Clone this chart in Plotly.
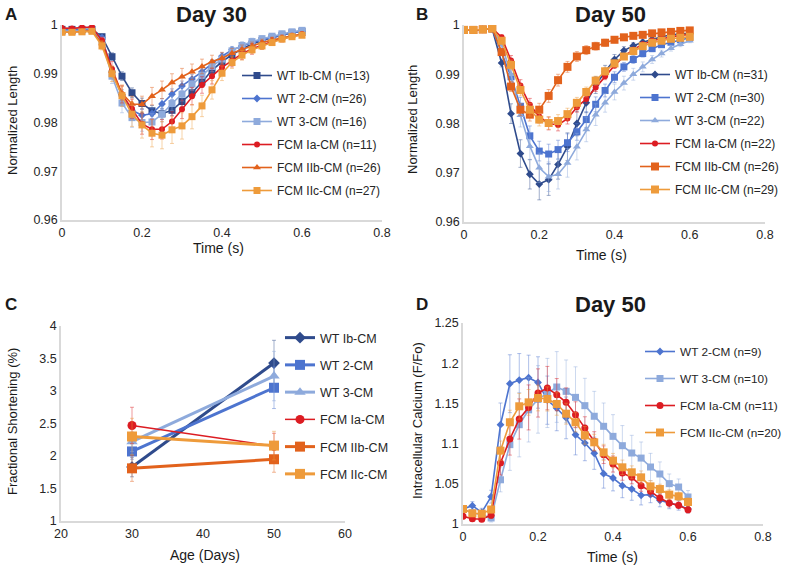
"""Cardiomyocyte contraction and calcium transients, four-panel figure."""

import plotly.graph_objects as go

FONT = "Liberation Sans, Arial, sans-serif"

NAVY = "#2F4B8C"
BLUE = "#4D74CF"
LIGHT_BLUE = "#8EAADC"
RED = "#DC1C22"
DARK_ORANGE = "#E2621C"
LIGHT_ORANGE = "#EE9B3B"

TIME = [0.0, 0.025, 0.05, 0.075, 0.1, 0.125, 0.15, 0.175, 0.2, 0.225, 0.25, 0.275, 0.3,
        0.325, 0.35, 0.375, 0.4, 0.425, 0.45, 0.475, 0.5, 0.525, 0.55, 0.575, 0.6]

# Panel A - Day 30 normalized length
A_WT_IB = [0.9991, 0.9991, 0.9991, 0.9991, 0.9976, 0.9935, 0.9895, 0.9861, 0.9839, 0.9824, 0.9818, 0.9825, 0.9843,
           0.9861, 0.9883, 0.9907, 0.9925, 0.9939, 0.9951, 0.9961, 0.9968, 0.9974, 0.9979, 0.9984, 0.9987]
A_WT_2 = [0.9990, 0.9990, 0.9990, 0.9990, 0.9974, 0.9905, 0.9855, 0.9825, 0.9815, 0.9818, 0.9838, 0.9858, 0.9875,
          0.9889, 0.9904, 0.9921, 0.9936, 0.9949, 0.9957, 0.9964, 0.9970, 0.9975, 0.9980, 0.9984, 0.9987]
A_WT_3 = [0.9987, 0.9987, 0.9988, 0.9989, 0.9968, 0.9895, 0.9840, 0.9810, 0.9800, 0.9801, 0.9817, 0.9839, 0.9858,
          0.9879, 0.9897, 0.9915, 0.9930, 0.9947, 0.9958, 0.9966, 0.9972, 0.9977, 0.9982, 0.9986, 0.9989]
A_FCM_IA = [0.9994, 0.9993, 0.9995, 0.9996, 0.9968, 0.9910, 0.9858, 0.9828, 0.9797, 0.9786, 0.9786, 0.9802, 0.9827,
            0.9854, 0.9877, 0.9895, 0.9913, 0.9927, 0.9941, 0.9951, 0.9959, 0.9966, 0.9972, 0.9977, 0.9981]
A_FCM_IIB = [0.9985, 0.9985, 0.9987, 0.9988, 0.9962, 0.9905, 0.9860, 0.9838, 0.9837, 0.9854, 0.9867, 0.9882, 0.9894,
             0.9904, 0.9915, 0.9925, 0.9932, 0.9942, 0.9950, 0.9957, 0.9964, 0.9969, 0.9974, 0.9978, 0.9981]
A_FCM_IIC = [0.9985, 0.9985, 0.9986, 0.9987, 0.9957, 0.9900, 0.9855, 0.9817, 0.9795, 0.9778, 0.9774, 0.9785, 0.9793,
             0.9812, 0.9834, 0.9867, 0.9901, 0.9923, 0.9938, 0.9949, 0.9957, 0.9964, 0.9971, 0.9976, 0.9979]

A_WT_IB_ERR = [0.0002, 0.0002, 0.0002, 0.0002, 0.0004, 0.0008, 0.0009, 0.0010, 0.0011, 0.0011, 0.0011, 0.0011, 0.0011,
               0.0010, 0.0010, 0.0009, 0.0008, 0.0007, 0.0006, 0.0005, 0.0005, 0.0004, 0.0004, 0.0003, 0.0003]
A_WT_2_ERR = [0.0002, 0.0002, 0.0002, 0.0002, 0.0004, 0.0010, 0.0012, 0.0012, 0.0012, 0.0011, 0.0011, 0.0011, 0.0010,
              0.0010, 0.0009, 0.0008, 0.0007, 0.0006, 0.0005, 0.0005, 0.0004, 0.0004, 0.0003, 0.0003, 0.0003]
A_WT_3_ERR = [0.0003, 0.0003, 0.0003, 0.0003, 0.0006, 0.0015, 0.0020, 0.0020, 0.0018, 0.0017, 0.0016, 0.0015, 0.0014,
              0.0013, 0.0012, 0.0011, 0.0010, 0.0009, 0.0008, 0.0007, 0.0006, 0.0005, 0.0005, 0.0004, 0.0004]
A_FCM_IA_ERR = [0.0003, 0.0003, 0.0003, 0.0003, 0.0007, 0.0015, 0.0018, 0.0020, 0.0021, 0.0021, 0.0020, 0.0020, 0.0019,
                0.0018, 0.0017, 0.0016, 0.0015, 0.0013, 0.0012, 0.0011, 0.0009, 0.0008, 0.0007, 0.0006, 0.0005]
A_FCM_IIB_ERR = [0.0003, 0.0003, 0.0003, 0.0003, 0.0006, 0.0010, 0.0014, 0.0016, 0.0017, 0.0018, 0.0018, 0.0018, 0.0017,
                 0.0016, 0.0015, 0.0013, 0.0012, 0.0010, 0.0009, 0.0008, 0.0007, 0.0006, 0.0005, 0.0004, 0.0004]
A_FCM_IIC_ERR = [0.0003, 0.0003, 0.0003, 0.0003, 0.0008, 0.0016, 0.0022, 0.0025, 0.0027, 0.0028, 0.0028, 0.0028, 0.0027,
                 0.0025, 0.0022, 0.0019, 0.0015, 0.0012, 0.0010, 0.0008, 0.0007, 0.0006, 0.0005, 0.0004, 0.0004]

# Panel B - Day 50 normalized length
B_WT_IB = [0.9990, 0.9990, 0.9991, 0.9992, 0.9923, 0.9820, 0.9739, 0.9697, 0.9677, 0.9686, 0.9717, 0.9753, 0.9800,
           0.9842, 0.9878, 0.9905, 0.9930, 0.9948, 0.9958, 0.9965, 0.9971, 0.9976, 0.9980, 0.9982, 0.9983]
B_WT_2 = [0.9990, 0.9990, 0.9991, 0.9992, 0.9945, 0.9895, 0.9835, 0.9775, 0.9744, 0.9738, 0.9747, 0.9761, 0.9783,
          0.9808, 0.9839, 0.9867, 0.9894, 0.9915, 0.9930, 0.9942, 0.9952, 0.9960, 0.9965, 0.9970, 0.9974]
B_WT_3 = [0.9990, 0.9990, 0.9991, 0.9992, 0.9960, 0.9900, 0.9817, 0.9754, 0.9710, 0.9692, 0.9697, 0.9720, 0.9753,
          0.9788, 0.9818, 0.9842, 0.9864, 0.9882, 0.9900, 0.9915, 0.9930, 0.9942, 0.9953, 0.9961, 0.9968]
B_FCM_IA = [0.9990, 0.9990, 0.9991, 0.9993, 0.9975, 0.9928, 0.9877, 0.9838, 0.9814, 0.9800, 0.9797, 0.9810, 0.9833,
            0.9850, 0.9873, 0.9896, 0.9918, 0.9936, 0.9950, 0.9961, 0.9968, 0.9972, 0.9976, 0.9979, 0.9981]
B_FCM_IIB = [0.9990, 0.9990, 0.9991, 0.9993, 0.9945, 0.9875, 0.9828, 0.9818, 0.9828, 0.9856, 0.9888, 0.9915, 0.9936,
             0.9949, 0.9957, 0.9964, 0.9970, 0.9975, 0.9978, 0.9980, 0.9983, 0.9985, 0.9986, 0.9988, 0.9989]
B_FCM_IIC = [0.9990, 0.9990, 0.9991, 0.9993, 0.9968, 0.9919, 0.9868, 0.9828, 0.9808, 0.9801, 0.9805, 0.9819, 0.9842,
             0.9864, 0.9887, 0.9906, 0.9922, 0.9936, 0.9947, 0.9957, 0.9964, 0.9968, 0.9972, 0.9974, 0.9976]

B_WT_IB_ERR = [0.0002, 0.0002, 0.0002, 0.0002, 0.0008, 0.0020, 0.0028, 0.0030, 0.0032, 0.0032, 0.0030, 0.0028, 0.0025,
               0.0020, 0.0017, 0.0013, 0.0010, 0.0008, 0.0006, 0.0005, 0.0004, 0.0004, 0.0003, 0.0003, 0.0003]
B_WT_2_ERR = [0.0002, 0.0002, 0.0002, 0.0002, 0.0006, 0.0014, 0.0018, 0.0020, 0.0020, 0.0020, 0.0019, 0.0018, 0.0017,
              0.0016, 0.0015, 0.0013, 0.0011, 0.0009, 0.0008, 0.0007, 0.0006, 0.0005, 0.0004, 0.0004, 0.0003]
B_WT_3_ERR = [0.0002, 0.0002, 0.0002, 0.0002, 0.0007, 0.0016, 0.0024, 0.0028, 0.0030, 0.0030, 0.0030, 0.0029, 0.0027,
              0.0025, 0.0022, 0.0019, 0.0016, 0.0014, 0.0012, 0.0010, 0.0008, 0.0007, 0.0006, 0.0005, 0.0004]
B_FCM_IA_ERR = [0.0002, 0.0002, 0.0002, 0.0002, 0.0005, 0.0010, 0.0012, 0.0013, 0.0013, 0.0013, 0.0012, 0.0011, 0.0010,
                0.0009, 0.0008, 0.0007, 0.0006, 0.0005, 0.0005, 0.0004, 0.0004, 0.0003, 0.0003, 0.0003, 0.0003]
B_FCM_IIB_ERR = [0.0002, 0.0002, 0.0002, 0.0002, 0.0005, 0.0010, 0.0012, 0.0013, 0.0013, 0.0013, 0.0012, 0.0011, 0.0010,
                 0.0009, 0.0008, 0.0007, 0.0006, 0.0005, 0.0005, 0.0004, 0.0004, 0.0003, 0.0003, 0.0003, 0.0003]
B_FCM_IIC_ERR = [0.0002, 0.0002, 0.0002, 0.0002, 0.0005, 0.0010, 0.0012, 0.0013, 0.0013, 0.0013, 0.0013, 0.0012, 0.0011,
                 0.0010, 0.0009, 0.0008, 0.0007, 0.0006, 0.0005, 0.0005, 0.0004, 0.0004, 0.0003, 0.0003, 0.0003]

# Panel C - fractional shortening by age
C_AGE = [30, 50]
C_WT_IB = [1.83, 3.43]
C_WT_2 = [2.07, 3.05]
C_WT_3 = [2.22, 3.23]
C_FCM_IA = [2.47, 2.15]
C_FCM_IIB = [1.81, 1.95]
C_FCM_IIC = [2.30, 2.16]
C_WT_IB_ERR = [0.15, 0.35]
C_WT_2_ERR = [0.12, 0.32]
C_WT_3_ERR = [0.15, 0.38]
C_FCM_IA_ERR = [0.28, 0.20]
C_FCM_IIB_ERR = [0.20, 0.20]
C_FCM_IIC_ERR = [0.28, 0.22]

# Panel D - Day 50 intracellular calcium
D_WT_2 = [1.0187, 1.0228, 1.0145, 1.0340, 1.1235, 1.1745, 1.1790, 1.1820, 1.1760, 1.1540, 1.1440, 1.1320, 1.1110,
          1.1007, 1.0880, 1.0626, 1.0572, 1.0477, 1.0435, 1.0357, 1.0365, 1.0294, 1.0260, 1.0232, 1.0187]
D_WT_3 = [1.0187, 1.0137, 1.0116, 1.0075, 1.0550, 1.0987, 1.1235, 1.1420, 1.1550, 1.1630, 1.1704, 1.1650, 1.1575,
          1.1472, 1.1340, 1.1215, 1.1090, 1.0974, 1.0883, 1.0820, 1.0709, 1.0622, 1.0502, 1.0460, 1.0336]
D_FCM_IA = [1.0095, 1.0065, 1.0060, 1.0110, 1.0759, 1.1057, 1.1306, 1.1450, 1.1630, 1.1690, 1.1609, 1.1513, 1.1360,
            1.1194, 1.1028, 1.0862, 1.0746, 1.0634, 1.0580, 1.0477, 1.0406, 1.0323, 1.0261, 1.0232, 1.0178]
D_FCM_IIC = [1.0187, 1.0133, 1.0128, 1.0180, 1.0912, 1.1265, 1.1464, 1.1513, 1.1567, 1.1555, 1.1493, 1.1372, 1.1265,
             1.1103, 1.1016, 1.0891, 1.0788, 1.0705, 1.0643, 1.0580, 1.0468, 1.0435, 1.0365, 1.0344, 1.0274]

D_WT_2_ERR = [0.004, 0.005, 0.005, 0.008, 0.027, 0.036, 0.033, 0.028, 0.032, 0.030, 0.028, 0.026, 0.025,
              0.022, 0.020, 0.018, 0.016, 0.015, 0.014, 0.012, 0.010, 0.008, 0.007, 0.006, 0.005]
D_WT_3_ERR = [0.004, 0.004, 0.004, 0.005, 0.015, 0.032, 0.040, 0.040, 0.042, 0.043, 0.044, 0.039, 0.038,
              0.034, 0.031, 0.029, 0.027, 0.025, 0.022, 0.020, 0.017, 0.015, 0.012, 0.010, 0.008]
D_FCM_IA_ERR = [0.003, 0.003, 0.003, 0.004, 0.015, 0.020, 0.025, 0.028, 0.030, 0.027, 0.020, 0.018, 0.016,
                0.014, 0.012, 0.011, 0.010, 0.009, 0.008, 0.007, 0.006, 0.005, 0.005, 0.004, 0.004]
D_FCM_IIC_ERR = [0.003, 0.003, 0.003, 0.004, 0.012, 0.015, 0.016, 0.016, 0.016, 0.015, 0.014, 0.013, 0.012,
                 0.011, 0.010, 0.010, 0.009, 0.009, 0.008, 0.008, 0.007, 0.006, 0.006, 0.005, 0.005]

LEN_TICKS = [0.96, 0.97, 0.98, 0.99, 1.0]
LEN_TICK_TEXT = ["0.96", "0.97", "0.98", "0.99", "1"]
TIME_TICKS = [0, 0.2, 0.4, 0.6, 0.8]
TIME_TICK_TEXT = ["0", "0.2", "0.4", "0.6", "0.8"]
FS_TICKS = [1, 1.5, 2, 2.5, 3, 3.5, 4]
FS_TICK_TEXT = ["1", "1.5", "2", "2.5", "3", "3.5", "4"]
AGE_TICKS = [20, 30, 40, 50, 60]
CA_TICKS = [1, 1.05, 1.1, 1.15, 1.2, 1.25]
CA_TICK_TEXT = ["1", "1.05", "1.1", "1.15", "1.2", "1.25"]

W, H = 787, 567


def px_x(p):
    return p / W


def px_y(p):
    return 1 - p / H


def fade(hex_color, alpha):
    h = hex_color.lstrip("#")
    r, g, b = int(h[0:2], 16), int(h[2:4], 16), int(h[4:6], 16)
    return f"rgba({r},{g},{b},{alpha})"


fig = go.Figure()


def add_series(x, y, err, name, color, symbol, size, width, axis, legend):
    fig.add_trace(
        go.Scatter(
            x=x,
            y=y,
            mode="lines+markers",
            name=name,
            line=dict(color=color, width=width),
            marker=dict(color=color, symbol=symbol, size=size),
            error_y=dict(type="data", array=err, color=fade(color, 0.45), thickness=1, width=2),
            xaxis="x" + axis,
            yaxis="y" + axis,
            legend=legend,
            legendgroup=legend + name,
        )
    )


# Panel A
add_series(TIME, A_WT_IB, A_WT_IB_ERR, "WT Ib-CM (n=13)", NAVY, "square", 7, 1.6, "", "legend")
add_series(TIME, A_WT_2, A_WT_2_ERR, "WT 2-CM (n=26)", BLUE, "diamond", 6, 1.6, "", "legend")
add_series(TIME, A_WT_3, A_WT_3_ERR, "WT 3-CM (n=16)", LIGHT_BLUE, "square", 7, 1.6, "", "legend")
add_series(TIME, A_FCM_IA, A_FCM_IA_ERR, "FCM Ia-CM (n=11)", RED, "circle", 6, 1.6, "", "legend")
add_series(TIME, A_FCM_IIB, A_FCM_IIB_ERR, "FCM IIb-CM (n=26)", DARK_ORANGE, "triangle-up", 7, 1.6, "", "legend")
add_series(TIME, A_FCM_IIC, A_FCM_IIC_ERR, "FCM IIc-CM (n=27)", LIGHT_ORANGE, "square", 7, 1.6, "", "legend")

# Panel B
add_series(TIME, B_WT_IB, B_WT_IB_ERR, "WT Ib-CM (n=31)", NAVY, "diamond", 6, 1.6, "2", "legend2")
add_series(TIME, B_WT_2, B_WT_2_ERR, "WT 2-CM (n=30)", BLUE, "square", 7, 1.6, "2", "legend2")
add_series(TIME, B_WT_3, B_WT_3_ERR, "WT 3-CM (n=22)", LIGHT_BLUE, "triangle-up", 7, 1.6, "2", "legend2")
add_series(TIME, B_FCM_IA, B_FCM_IA_ERR, "FCM Ia-CM (n=22)", RED, "circle", 6, 1.6, "2", "legend2")
add_series(TIME, B_FCM_IIB, B_FCM_IIB_ERR, "FCM IIb-CM (n=26)", DARK_ORANGE, "square", 8, 1.6, "2", "legend2")
add_series(TIME, B_FCM_IIC, B_FCM_IIC_ERR, "FCM IIc-CM (n=29)", LIGHT_ORANGE, "square", 8, 1.6, "2", "legend2")

# Panel C
add_series(C_AGE, C_WT_IB, C_WT_IB_ERR, "WT Ib-CM", NAVY, "diamond", 9, 3, "3", "legend3")
add_series(C_AGE, C_WT_2, C_WT_2_ERR, "WT 2-CM", BLUE, "square", 10, 3, "3", "legend3")
add_series(C_AGE, C_WT_3, C_WT_3_ERR, "WT 3-CM", LIGHT_BLUE, "triangle-up", 10, 3, "3", "legend3")
add_series(C_AGE, C_FCM_IA, C_FCM_IA_ERR, "FCM Ia-CM", RED, "circle", 9, 1.5, "3", "legend3")
add_series(C_AGE, C_FCM_IIB, C_FCM_IIB_ERR, "FCM IIb-CM", DARK_ORANGE, "square", 10, 3, "3", "legend3")
add_series(C_AGE, C_FCM_IIC, C_FCM_IIC_ERR, "FCM IIc-CM", LIGHT_ORANGE, "square", 10, 3, "3", "legend3")

# Panel D
add_series(TIME, D_WT_2, D_WT_2_ERR, "WT 2-CM (n=9)", BLUE, "diamond", 6, 1.6, "4", "legend4")
add_series(TIME, D_WT_3, D_WT_3_ERR, "WT 3-CM (n=10)", LIGHT_BLUE, "square", 7, 1.6, "4", "legend4")
add_series(TIME, D_FCM_IA, D_FCM_IA_ERR, "FCM Ia-CM (n=11)", RED, "circle", 7, 1.6, "4", "legend4")
add_series(TIME, D_FCM_IIC, D_FCM_IIC_ERR, "FCM IIc-CM (n=20)", LIGHT_ORANGE, "square", 8, 1.6, "4", "legend4")

AXIS_STYLE = dict(
    showgrid=False, zeroline=False, showline=True, linecolor="#D9D9D9", linewidth=1.5,
    ticks="", ticklen=0, automargin=False,
    tickfont=dict(size=12.5, color="#262626", family=FONT), mirror=False,
)


def axis(domain, rng, tickvals, ticktext, anchor):
    return dict(AXIS_STYLE, domain=domain, range=rng, tickvals=tickvals, ticktext=ticktext,
                anchor=anchor, tickmode="array")


LEGEND_STYLE = dict(bgcolor="rgba(0,0,0,0)", font=dict(size=12, color="#262626", family=FONT),
                    xanchor="left", yanchor="top", tracegroupgap=4, itemwidth=30)

ANN = []


def text(x, y, s, size, bold=False, angle=0):
    ANN.append(dict(x=px_x(x), y=px_y(y), xref="paper", yref="paper", text=f"<b>{s}</b>" if bold else s,
                    showarrow=False, textangle=angle, font=dict(size=size, color="#1A1A1A", family=FONT),
                    xanchor="center", yanchor="middle"))


text(11, 14, "A", 17, bold=True)
text(422, 14, "B", 17, bold=True)
text(11, 304, "C", 17, bold=True)
text(422, 304, "D", 17, bold=True)
text(211, 14, "Day 30", 22, bold=True)
text(610, 14, "Day 50", 22, bold=True)
text(610, 304, "Day 50", 22, bold=True)
text(13, 121, "Normalized Length", 13, angle=-90)
text(412, 120, "Normalized Length", 13, angle=-90)
text(12, 422, "Fractional Shortening (%)", 13, angle=-90)
text(417, 421, "Intracellular Calcium (F/Fo)", 13, angle=-90)
text(218, 248, "Time (s)", 14)
text(601, 255, "Time (s)", 14)
text(205, 555, "Age (Days)", 14)
text(612, 557, "Time (s)", 14)
ANN.append(dict(x=50, y=4.05, xref="x3", yref="y3", text="<b>*</b>", showarrow=False,
                font=dict(size=28, color="#000000", family=FONT), xanchor="center", yanchor="middle"))

fig.update_layout(
    width=W,
    height=H,
    margin=dict(l=0, r=0, t=0, b=0, autoexpand=False),
    paper_bgcolor="white",
    plot_bgcolor="white",
    font=dict(family=FONT, color="#262626"),
    xaxis=axis([px_x(62), px_x(382)], [0, 0.8], TIME_TICKS, TIME_TICK_TEXT, "y"),
    yaxis=axis([px_y(220), px_y(25)], [0.96, 1.0], LEN_TICKS, LEN_TICK_TEXT, "x"),
    xaxis2=axis([px_x(464), px_x(765)], [0, 0.8], TIME_TICKS, TIME_TICK_TEXT, "y2"),
    yaxis2=axis([px_y(222), px_y(25)], [0.96, 1.0], LEN_TICKS, LEN_TICK_TEXT, "x2"),
    xaxis3=axis([px_x(61), px_x(345)], [20, 60], AGE_TICKS, [str(v) for v in AGE_TICKS], "y3"),
    yaxis3=axis([px_y(521), px_y(326)], [1, 4], FS_TICKS, FS_TICK_TEXT, "x3"),
    xaxis4=axis([px_x(463), px_x(763)], [0, 0.8], TIME_TICKS, TIME_TICK_TEXT, "y4"),
    yaxis4=axis([px_y(524), px_y(323)], [1, 1.25], CA_TICKS, CA_TICK_TEXT, "x4"),
    legend=dict(LEGEND_STYLE, x=px_x(237), y=px_y(61)),
    legend2=dict(LEGEND_STYLE, x=px_x(635), y=px_y(60)),
    legend3=dict(LEGEND_STYLE, x=px_x(280), y=px_y(323), tracegroupgap=8,
                 font=dict(size=12.5, color="#262626", family=FONT)),
    legend4=dict(LEGEND_STYLE, x=px_x(640), y=px_y(337), tracegroupgap=8,
                 font=dict(size=11.8, color="#262626", family=FONT)),
    annotations=ANN,
    showlegend=True,
)

# drop the default page margin so the figure sits at the window's corner
fig.write_html(
    "out.html",
    config={"displayModeBar": False},
    post_script="document.body.style.margin = '0';",
)
